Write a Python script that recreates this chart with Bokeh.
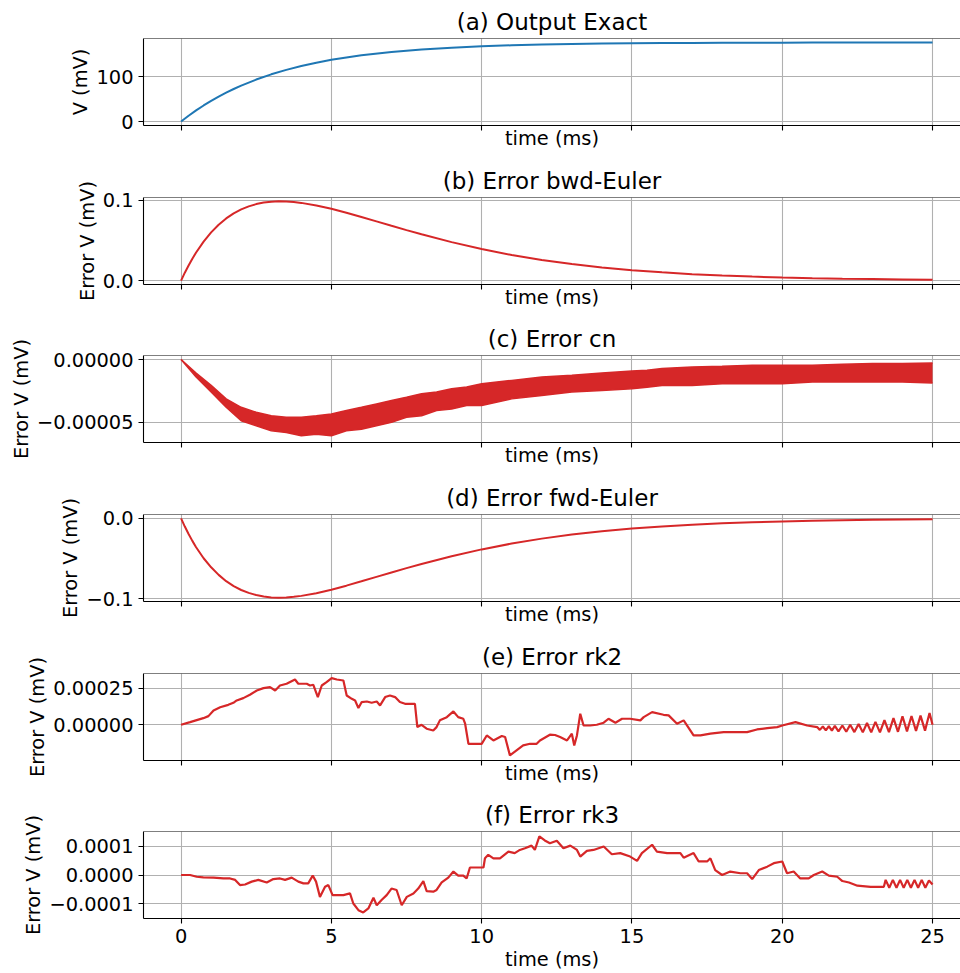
from bokeh.plotting import figure
from bokeh.layouts import column
from bokeh.models import FixedTicker, CustomJSTickFormatter, Span, Range1d
from bokeh.embed import file_html
from bokeh.resources import INLINE

# ---------------- data ----------------
x_ticks = [0, 5, 10, 15, 20, 25]

# (a) exact output
t_a = [0, 0.25, 0.5, 0.75, 1, 1.25, 1.5, 1.75, 2, 2.5, 3, 3.5, 4, 4.5, 5, 6, 7, 8, 9,
       10, 11, 12, 13, 14, 15, 16, 17, 18, 19, 20, 21, 22, 23, 24, 25]
v_a = [0, 12.9, 24.9, 36.0, 46.3, 55.8, 64.6, 72.9, 80.4, 94.0, 105.7, 115.7, 124.3,
       131.7, 138.1, 148.3, 155.8, 161.3, 165.4, 168.4, 170.7, 172.3, 173.5, 174.5,
       175.1, 175.6, 176.0, 176.2, 176.4, 176.6, 176.7, 176.8, 176.8, 176.9, 176.9]

# (b) bwd-Euler and (d) fwd-Euler errors
t_bd = [0, 0.125, 0.25, 0.375, 0.5, 0.75, 1, 1.25, 1.5, 1.75, 2, 2.25, 2.5, 2.75, 3,
        3.25, 3.5, 3.75, 4, 4.5, 5, 5.5, 6, 6.5, 7, 7.5, 8, 9, 10, 11, 12, 13, 14, 15,
        16, 17, 18, 19, 20, 21, 22, 23, 24, 25]
err_bwd = [0, 0.0098, 0.0188, 0.0272, 0.0349, 0.0485, 0.0599, 0.0694, 0.0773, 0.0836,
           0.0885, 0.0923, 0.0951, 0.0970, 0.0981, 0.0985, 0.0983, 0.0977, 0.0966,
           0.0934, 0.0892, 0.0843, 0.0790, 0.0736, 0.0681, 0.0627, 0.0575, 0.0478,
           0.0392, 0.0318, 0.0257, 0.0205, 0.0163, 0.0129, 0.0102, 0.0080, 0.0062,
           0.0049, 0.0038, 0.0029, 0.0023, 0.0018, 0.0014, 0.0010]
err_fwd = [0, -0.0101, -0.0194, -0.0279, -0.0358, -0.0495, -0.0608, -0.0702, -0.0780,
           -0.0842, -0.0890, -0.0926, -0.0953, -0.0971, -0.0982, -0.0985, -0.0982,
           -0.0975, -0.0963, -0.0930, -0.0886, -0.0836, -0.0782, -0.0727, -0.0672,
           -0.0618, -0.0566, -0.0470, -0.0385, -0.0312, -0.0251, -0.0201, -0.0160,
           -0.0126, -0.0100, -0.0078, -0.0061, -0.0048, -0.0037, -0.0029, -0.0022,
           -0.0017, -0.0013, -0.0010]

# (c) crank-nicolson error: noisy band, upper and lower envelope
t_cn = [0, 0.5, 1, 1.5, 2, 2.5, 3, 3.5, 4, 4.5, 5, 5.5, 6, 6.5, 7, 7.5, 8, 8.5, 9, 9.5,
        10, 11, 12, 13, 14, 15, 15.5, 16, 17, 18, 19, 20, 21, 22, 23, 24, 25]
cn_upper = [0, -1.07e-5, -2.06e-5, -3.13e-5, -3.80e-5, -4.20e-5, -4.47e-5, -4.60e-5,
            -4.60e-5, -4.47e-5, -4.33e-5, -4.06e-5, -3.80e-5, -3.53e-5, -3.26e-5,
            -3.00e-5, -2.73e-5, -2.59e-5, -2.33e-5, -2.19e-5, -1.93e-5, -1.66e-5,
            -1.39e-5, -1.26e-5, -1.07e-5, -0.91e-5, -0.85e-5, -0.72e-5, -0.59e-5,
            -0.53e-5, -0.45e-5, -0.45e-5, -0.45e-5, -0.37e-5, -0.32e-5, -0.32e-5,
            -0.27e-5]
cn_lower = [0, -1.39e-5, -2.59e-5, -3.80e-5, -4.87e-5, -5.27e-5, -5.67e-5, -5.80e-5,
            -6.07e-5, -5.94e-5, -6.07e-5, -5.67e-5, -5.54e-5, -5.27e-5, -5.00e-5,
            -4.60e-5, -4.47e-5, -4.06e-5, -3.93e-5, -3.66e-5, -3.66e-5, -3.13e-5,
            -2.86e-5, -2.59e-5, -2.46e-5, -2.33e-5, -2.20e-5, -2.06e-5, -2.06e-5,
            -1.93e-5, -1.93e-5, -1.93e-5, -1.79e-5, -1.79e-5, -1.79e-5, -1.79e-5,
            -1.87e-5]

# (e) rk2 error
t_rk2 = [0, 0.3, 0.74, 0.91, 1.08, 1.3, 1.57, 1.74, 1.85, 2.07, 2.29, 2.52, 2.74, 2.96,
         3.13, 3.29, 3.51, 3.79, 3.9, 4.18, 4.29, 4.4, 4.55, 4.68, 4.84, 5.01, 5.18,
         5.4, 5.51, 5.68, 5.79, 5.9, 6.01, 6.18, 6.34, 6.51, 6.62, 6.79, 6.95, 7.12,
         7.28, 7.45, 7.78, 7.86, 8.0, 8.17, 8.39, 8.5, 8.61, 8.84, 9.06, 9.22, 9.39,
         9.45, 9.56, 10.0, 10.17, 10.39, 10.67, 10.78, 10.94, 11.16, 11.38, 11.61,
         11.83, 11.94, 12.27, 12.44, 12.61, 12.84, 13.0, 13.08, 13.17, 13.28, 13.39,
         13.61, 13.83, 14.06, 14.22, 14.45, 14.67, 14.94, 15.28, 15.39, 15.67, 16.05,
         16.22, 16.5, 16.72, 17.05, 17.28, 17.61, 18.05, 18.5, 18.83, 19.16, 19.5,
         19.83, 20.0, 20.44, 20.83, 21.16, 21.25, 21.35, 21.45, 21.55, 21.65, 21.75,
         21.87, 22.0, 22.13, 22.26, 22.4, 22.54, 22.68, 22.82, 22.96, 23.1, 23.25,
         23.4, 23.55, 23.7, 23.85, 24.0, 24.15, 24.3, 24.45, 24.6, 24.75, 24.9, 25.0]
err_rk2 = [0, 0.18e-4, 0.45e-4, 0.59e-4, 0.98e-4, 1.2e-4, 1.36e-4, 1.5e-4, 1.66e-4,
           1.82e-4, 2.05e-4, 2.34e-4, 2.5e-4, 2.57e-4, 2.34e-4, 2.68e-4, 2.8e-4,
           3.09e-4, 2.8e-4, 2.8e-4, 2.68e-4, 2.73e-4, 1.89e-4, 2.68e-4, 2.91e-4,
           3.18e-4, 3.09e-4, 3.02e-4, 2.0e-4, 1.77e-4, 1.66e-4, 1.14e-4, 1.55e-4,
           1.59e-4, 1.5e-4, 1.59e-4, 1.32e-4, 1.89e-4, 2.0e-4, 1.89e-4, 1.55e-4,
           1.43e-4, 1.43e-4, -0.16e-4, 0.0, -0.27e-4, -0.39e-4, -0.16e-4, 0.3e-4,
           0.52e-4, 0.91e-4, 0.52e-4, 0.41e-4, 0.07e-4, -1.3e-4, -1.3e-4, -0.73e-4,
           -1.07e-4, -0.77e-4, -0.84e-4, -2.09e-4, -1.75e-4, -1.41e-4, -1.3e-4,
           -1.3e-4, -1.07e-4, -0.68e-4, -0.7e-4, -0.84e-4, -1.07e-4, -0.61e-4,
           -1.41e-4, -0.73e-4, 0.75e-4, -0.05e-4, -0.05e-4, 0.0, 0.14e-4, 0.41e-4,
           0.14e-4, 0.41e-4, 0.41e-4, 0.3e-4, 0.52e-4, 0.86e-4, 0.68e-4, 0.64e-4,
           0.07e-4, 0.3e-4, -0.73e-4, -0.73e-4, -0.61e-4, -0.5e-4, -0.5e-4, -0.5e-4,
           -0.32e-4, -0.23e-4, -0.16e-4, -0.05e-4, 0.18e-4, -0.05e-4, -0.16e-4,
           -0.35e-4, -0.12e-4, -0.38e-4, -0.1e-4, -0.4e-4, -0.08e-4, -0.45e-4,
           -0.05e-4, -0.48e-4, 0.0, -0.5e-4, 0.05e-4, -0.52e-4, 0.12e-4, -0.52e-4,
           0.2e-4, -0.52e-4, 0.32e-4, -0.5e-4, 0.45e-4, -0.48e-4, 0.58e-4, -0.45e-4,
           0.6e-4, -0.42e-4, 0.62e-4, -0.4e-4, 0.8e-4, 0.0]

# (f) rk3 error
t_rk3 = [0, 0.3, 0.52, 0.74, 1.08, 1.41, 1.63, 1.8, 1.96, 2.13, 2.35, 2.57, 2.85, 3.07,
         3.29, 3.46, 3.68, 3.9, 4.07, 4.23, 4.38, 4.49, 4.62, 4.79, 4.9, 5.04, 5.4,
         5.62, 5.73, 5.9, 6.06, 6.23, 6.4, 6.51, 6.67, 6.84, 7.0, 7.17, 7.34, 7.51,
         7.73, 7.89, 8.06, 8.17, 8.39, 8.5, 8.67, 8.89, 9.06, 9.22, 9.39, 9.5, 9.61,
         10.06, 10.11, 10.22, 10.39, 10.61, 10.89, 11.1, 11.27, 11.44, 11.66, 11.77,
         11.92, 12.1, 12.27, 12.5, 12.72, 12.95, 13.17, 13.28, 13.5, 13.72, 14.06,
         14.33, 14.61, 14.94, 15.17, 15.33, 15.67, 15.83, 16.17, 16.61, 16.72, 17.05,
         17.22, 17.5, 17.61, 17.77, 18.0, 18.27, 18.61, 18.83, 19.0, 19.22, 19.5,
         19.72, 20.0, 20.16, 20.38, 20.6, 20.88, 21.05, 21.33, 21.55, 21.83, 22.0,
         22.22, 22.5, 22.94, 23.38, 23.44, 23.56, 23.68, 23.8, 23.92, 24.04, 24.16,
         24.28, 24.4, 24.52, 24.64, 24.76, 24.88, 25.0]
err_rk3 = [0, 0, -0.06e-4, -0.08e-4, -0.09e-4, -0.12e-4, -0.12e-4, -0.17e-4, -0.35e-4,
           -0.33e-4, -0.23e-4, -0.17e-4, -0.26e-4, -0.14e-4, -0.12e-4, -0.17e-4,
           -0.09e-4, -0.23e-4, -0.29e-4, -0.29e-4, -0.02e-4, -0.23e-4, -0.76e-4,
           -0.41e-4, -0.35e-4, -0.70e-4, -0.70e-4, -0.64e-4, -0.99e-4, -1.22e-4,
           -1.30e-4, -1.16e-4, -0.79e-4, -1.05e-4, -0.87e-4, -0.70e-4, -0.47e-4,
           -0.52e-4, -1.05e-4, -0.76e-4, -0.64e-4, -0.47e-4, -0.21e-4, -0.56e-4,
           -0.58e-4, -0.52e-4, -0.26e-4, -0.09e-4, 0.12e-4, -0.02e-4, -0.02e-4,
           -0.12e-4, 0.26e-4, 0.26e-4, 0.58e-4, 0.70e-4, 0.58e-4, 0.58e-4, 0.81e-4,
           0.76e-4, 0.87e-4, 0.93e-4, 1.02e-4, 0.87e-4, 1.34e-4, 1.2e-4, 1.1e-4,
           1.19e-4, 0.93e-4, 1.02e-4, 0.87e-4, 0.64e-4, 0.84e-4, 0.87e-4, 0.99e-4,
           0.72e-4, 0.76e-4, 0.64e-4, 0.49e-4, 0.76e-4, 1.05e-4, 0.81e-4, 0.76e-4,
           0.76e-4, 0.60e-4, 0.76e-4, 0.47e-4, 0.47e-4, 0.58e-4, 0.17e-4, 0.0,
           0.12e-4, 0.06e-4, 0.06e-4, -0.14e-4, 0.17e-4, 0.29e-4, 0.41e-4, 0.47e-4,
           0.06e-4, 0.12e-4, -0.12e-4, -0.12e-4, 0.0, 0.12e-4, -0.02e-4, -0.06e-4,
           -0.21e-4, -0.26e-4, -0.37e-4, -0.41e-4, -0.41e-4, -0.17e-4, -0.44e-4,
           -0.17e-4, -0.44e-4, -0.17e-4, -0.44e-4, -0.17e-4, -0.44e-4, -0.17e-4,
           -0.44e-4, -0.17e-4, -0.44e-4, -0.19e-4, -0.33e-4]

# panel texts, y ranges and y ticks
titles = ["(a) Output Exact", "(b) Error bwd-Euler", "(c) Error cn",
          "(d) Error fwd-Euler", "(e) Error rk2", "(f) Error rk3"]
ylabels = ["V (mV)", "Error V (mV)", "Error V (mV)", "Error V (mV)",
           "Error V (mV)", "Error V (mV)"]
y_ranges = [(-8.85, 185.9), (-0.0049, 0.1033), (-6.6e-5, 3.2e-6),
            (-0.1033, 0.0049), (-2.44e-4, 3.50e-4), (-1.51e-4, 1.51e-4)]
y_ticks = [[0, 100], [0, 0.1], [-5e-5, 0], [-0.1, 0], [0, 2.5e-4], [-1e-4, 0, 1e-4]]
y_decimals = [0, 1, 5, 1, 5, 4]

# ---------------- styling / layout ----------------
FONT = "DejaVu Sans"
BLUE = "#1f77b4"
RED = "#d62728"
heights = [159, 158, 159, 159, 158, 180]


def make_panel(i):
    last = i == 5
    h = heights[i]
    p = figure(width=960, height=h, output_backend="svg", toolbar_location=None,
               x_range=Range1d(-1.25, 25.93), y_range=Range1d(*y_ranges[i]),
               min_border_left=143, min_border_right=0, min_border_top=38,
               min_border_bottom=h - 38 - 87,
               background_fill_color="white", border_fill_color="white",
               outline_line_color=None)
    p.title.text = titles[i]
    p.title.align = "center"
    p.title.text_font = FONT
    p.title.text_font_size = "23px"
    p.title.text_font_style = "normal"
    p.title.text_color = "black"
    p.title.standoff = 8

    for ax in (p.xaxis[0], p.yaxis[0]):
        ax.axis_line_color = "black"
        ax.axis_line_width = 1.1
        ax.major_tick_line_color = "black"
        ax.major_tick_line_width = 1.1
        ax.major_tick_in = 0
        ax.major_tick_out = 5
        ax.minor_tick_line_color = None
        ax.major_label_text_font = FONT
        ax.major_label_text_font_size = "19.4px"
        ax.major_label_text_color = "black"
        ax.major_label_standoff = 5
        ax.axis_label_text_font = FONT
        ax.axis_label_text_font_size = "19.4px"
        ax.axis_label_text_font_style = "normal"
        ax.axis_label_text_color = "black"

    xa = p.xaxis[0]
    xa.ticker = FixedTicker(ticks=x_ticks)
    xa.axis_label = "time (ms)"
    if last:
        xa.axis_label_standoff = 2
    else:
        # shared x axis: tick marks only, no tick labels drawn
        xa.major_label_text_font_size = "0px"
        xa.major_label_text_color = None
        xa.major_label_text_alpha = 0
        xa.major_label_standoff = 0
        xa.axis_label_standoff = -4

    ya = p.yaxis[0]
    ya.ticker = FixedTicker(ticks=y_ticks[i])
    ya.formatter = CustomJSTickFormatter(
        code="return tick.toFixed(%d).replace('-', '\\u2212');" % y_decimals[i])
    ya.axis_label = ylabels[i]
    ya.axis_label_standoff = 1

    for g in (p.xgrid[0], p.ygrid[0]):
        g.grid_line_color = "#b0b0b0"
        g.grid_line_width = 1.1

    # top spine
    p.add_layout(Span(location=y_ranges[i][1], dimension="width",
                      line_color="black", line_width=1.1))
    return p


panels = [make_panel(i) for i in range(6)]

panels[0].line(t_a, v_a, line_color=BLUE, line_width=2)
panels[1].line(t_bd, err_bwd, line_color=RED, line_width=2)
panels[2].varea(x=t_cn, y1=cn_lower, y2=cn_upper, fill_color=RED)
panels[2].line(t_cn, cn_upper, line_color=RED, line_width=1.5)
panels[2].line(t_cn, cn_lower, line_color=RED, line_width=1.5)
panels[3].line(t_bd, err_fwd, line_color=RED, line_width=2)
panels[4].line(t_rk2, err_rk2, line_color=RED, line_width=2.2)
panels[5].line(t_rk3, err_rk3, line_color=RED, line_width=2.2)

layout = column(*panels, spacing=0)

with open("out.html", "w", encoding="utf-8") as f:
    f.write(file_html(layout, INLINE, title="Output and errors"))
